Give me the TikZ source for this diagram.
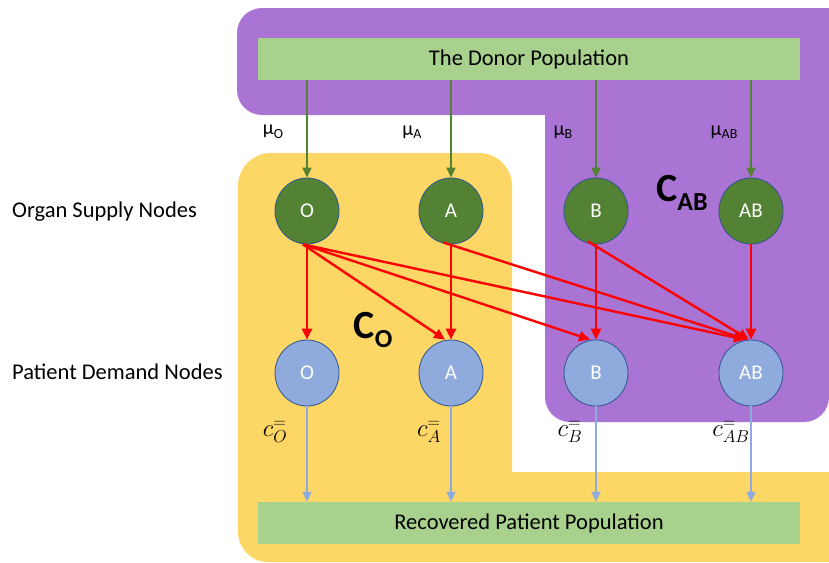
\documentclass[tikz,border=0pt]{standalone}
\usepackage{fontspec}
\setmainfont{Carlito}
\usetikzlibrary{shapes.geometric,arrows.meta,calc}
\definecolor{purp}{HTML}{AA74D4}
\definecolor{yel}{HTML}{FDD766}
\definecolor{lgreen}{HTML}{A9D18E}
\definecolor{dgreen}{HTML}{548235}
\definecolor{lblue}{HTML}{8FAADC}
\definecolor{nborder}{HTML}{2F528F}
\tikzset{
  popbox/.style={draw=none,fill=lgreen,minimum width=542pt,minimum height=42pt,inner sep=0pt,font=\fontsize{22.5}{24}\selectfont},
  supply/.style={ellipse,draw=nborder,line width=0.8pt,fill=dgreen,minimum width=64pt,minimum height=66pt,inner sep=0pt,text=white,font=\fontsize{21}{23}\selectfont},
  demand/.style={ellipse,draw=nborder,line width=0.8pt,fill=lblue,minimum width=64pt,minimum height=66pt,inner sep=0pt,text=white,font=\fontsize{21}{23}\selectfont},
  garrow/.style={draw=dgreen,line width=2pt,-{Triangle[width=9pt,length=10pt]}},
  rarrow/.style={draw=red,line width=2.4pt,-{Triangle[width=10pt,length=11pt]}},
  barrow/.style={draw=lblue,line width=2pt,-{Triangle[width=9pt,length=10pt]}},
  sidelabel/.style={anchor=west,inner sep=0pt,font=\fontsize{22.5}{24}\selectfont},
  mulabel/.style={inner sep=0pt,font=\fontsize{20}{22}\selectfont},
  clabel/.style={inner sep=0pt,font=\fontsize{23}{25}\selectfont},
  biglabel/.style={inner sep=0pt,font=\bfseries\fontsize{40}{44}\selectfont}
}
\newcommand{\mysub}[1]{\raisebox{-3.5pt}{\fontsize{14}{15}\selectfont #1}}
\newcommand{\bigsub}[1]{\raisebox{-9pt}{\fontsize{26}{28}\selectfont #1}}
\begin{document}
\begin{tikzpicture}[x=1pt,y=-1pt]
\useasboundingbox (0,0) rectangle (829,562);
% purple region
\fill[purp,rounded corners=25pt] (237,8) rectangle (855,115);
\fill[purp,rounded corners=25pt] (545,8) rectangle (829,422);
\fill[purp] (780,8) rectangle (829,60);
% yellow region
\fill[yel,rounded corners=33pt] (238,153) rectangle (512,562);
\fill[yel,rounded corners=30pt] (238,472) rectangle (855,562);
\fill[yel] (300,472) rectangle (512,562);
% population boxes
\node[popbox] (donor) at (529,59) {The Donor Population};
\node[popbox] (rec) at (529,523) {Recovered Patient Population};
% nodes
\node[supply] (O1) at (307,211) {O};
\node[supply] (A1) at (451,211) {A};
\node[supply] (B1) at (596,211) {B};
\node[supply] (AB1) at (751,211) {AB};
\node[demand] (O2) at (307,373) {O};
\node[demand] (A2) at (451,373) {A};
\node[demand] (B2) at (596,373) {B};
\node[demand] (AB2) at (751,373) {AB};
% side labels
\node[sidelabel] (lsup) at (12,212) {Organ Supply Nodes};
\node[sidelabel] (ldem) at (12,372) {Patient Demand Nodes};
% mu labels
\node[mulabel] (muO) at (273,132) {μ\mysub{O}};
\node[mulabel] (muA) at (412,132) {μ\mysub{A}};
\node[mulabel] (muB) at (563,132) {μ\mysub{B}};
\node[mulabel] (muAB) at (724,132) {μ\mysub{AB}};
% big labels
\node[biglabel] (cab) at (682,193) {C\bigsub{AB}};
\node[biglabel] (co) at (373,330) {C\bigsub{O}};
% green arrows
\foreach \n in {O1,A1,B1,AB1} \draw[garrow] (\n.north |- donor.south) -- (\n.north);
% red arrows
\draw[rarrow] (O1.south) -- (O2.north);
\draw[rarrow] ($(O1.south)+(-4,0)$) -- ($(A2.north)+(-6,0)$);
\draw[rarrow] ($(O1.south)+(-4,0)$) -- ($(B2.north)+(-6,0)$);
\draw[rarrow] ($(O1.south)+(-4,0)$) -- ($(AB2.north)+(-6,0)$);
\draw[rarrow] (A1.south) -- (A2.north);
\draw[rarrow] ($(A1.south)+(-8,-2)$) -- ($(AB2.north)+(-4,0)$);
\draw[rarrow] (B1.south) -- (B2.north);
\draw[rarrow] ($(B1.south)+(-8,-3)$) -- ($(AB2.north)+(-2,0)$);
\draw[rarrow] (AB1.south) -- (AB2.north);
% blue arrows
\foreach \n in {O2,A2,B2,AB2} \draw[barrow] (\n.south) -- (\n.south |- rec.north);
% c labels
\node[clabel] (cO) at (275,432) {$c_{O}^{=}$};
\node[clabel] (cA) at (429,432) {$c_{A}^{=}$};
\node[clabel] (cB) at (570,432) {$c_{B}^{=}$};
\node[clabel] (cAB) at (731,432) {$c_{AB}^{=}$};
\end{tikzpicture}
\end{document}
